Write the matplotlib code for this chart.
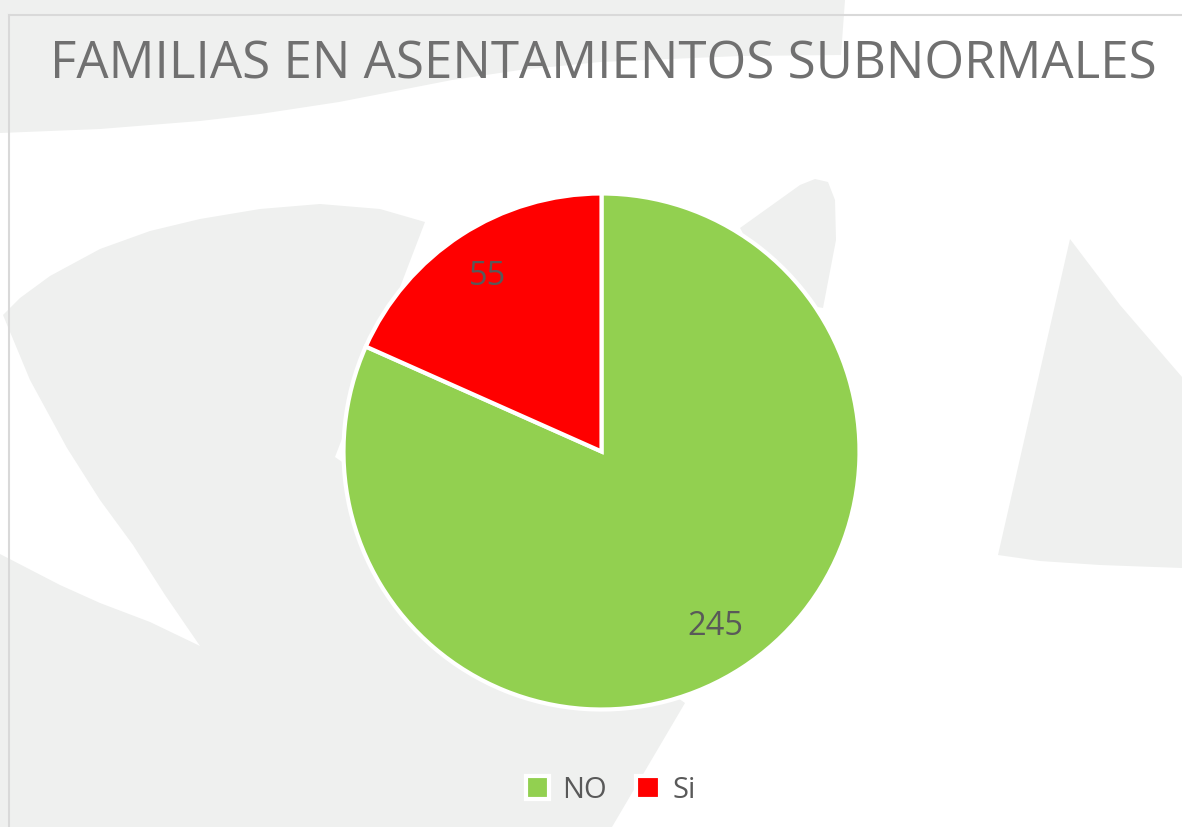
import matplotlib
matplotlib.use("Agg")
import matplotlib.pyplot as plt
from matplotlib.patches import Polygon
from matplotlib.lines import Line2D

# ---- data ----
categories = ["NO", "Si"]
values = [245, 55]
colors = ["#92D050", "#FF0000"]
title = "FAMILIAS EN ASENTAMIENTOS SUBNORMALES"

W, H = 1182, 827
fig = plt.figure(figsize=(W / 100, H / 100), dpi=100)
fig.patch.set_facecolor("white")

# ---- decorative background (pixel coords) ----
bg = fig.add_axes([0, 0, 1, 1], zorder=0)
bg.set_xlim(0, W)
bg.set_ylim(H, 0)
bg.axis("off")
gray = "#EFF0EF"
shapes = [
    [(0, 0), (845, 0), (841, 55), (740, 56), (600, 62), (520, 70), (452, 80),
     (339, 102), (260, 114), (200, 121), (100, 129), (0, 133)],
    [(3, 315), (20, 298), (50, 276), (100, 249), (150, 231), (200, 219), (260, 209),
     (320, 204), (380, 209), (425, 222),
     (335, 457), (685, 703), (612, 827), (0, 827), (0, 554), (60, 585), (100, 603),
     (150, 622), (200, 646), (165, 595), (133, 545), (100, 500), (67, 448), (30, 380)],
    [(740, 228), (800, 185), (815, 179), (828, 182), (835, 200), (836, 240),
     (823, 308), (780, 300)],
    [(1070, 239), (1120, 305), (1182, 377), (1182, 568), (1100, 565), (1040, 561),
     (998, 555)],
]
for pts in shapes:
    bg.add_patch(Polygon(pts, closed=True, facecolor=gray, edgecolor="none"))
# chart area border
bg.add_line(Line2D([9, 9], [15, H], color="#D9D9D9", lw=1.5))
bg.add_line(Line2D([9, W], [15, 15], color="#D9D9D9", lw=1.5))

# ---- pie ----
cx, cy, r = 601.5, 451.5, 258
ax = fig.add_axes([(cx - r) / W, (H - cy - r) / H, 2 * r / W, 2 * r / H], zorder=2)
total = sum(values)
wedges, texts, autotexts = ax.pie(
    values, colors=colors, startangle=90, counterclock=False,
    autopct=lambda p: f"{round(p * total / 100)}", pctdistance=0.81,
    wedgeprops=dict(edgecolor="white", linewidth=3.0),
    textprops=dict(color="#595959", fontsize=23.5, family="Open Sans"),
    radius=1.0,
)
ax.set_xlim(-1.0, 1.0)
ax.set_ylim(-1.0, 1.0)
ax.axis("off")
for w in wedges:
    w.set_clip_on(False)

# ---- title ----
fig.text(603 / W, 1 - 65 / H, title, ha="center", va="center",
         fontsize=36.7, color="#707070", family="Open Sans", fontweight="normal")

# ---- legend ----
leg = fig.legend(wedges, categories, loc="center", bbox_to_anchor=(611 / W, 1 - 790 / H),
                 ncol=2, frameon=False, handlelength=0.8, handleheight=0.8,
                 handletextpad=0.45, columnspacing=1.0, labelcolor="#595959",
                 prop=dict(family="Open Sans", size=21))

fig.savefig("out.png", dpi=100, facecolor="white")
